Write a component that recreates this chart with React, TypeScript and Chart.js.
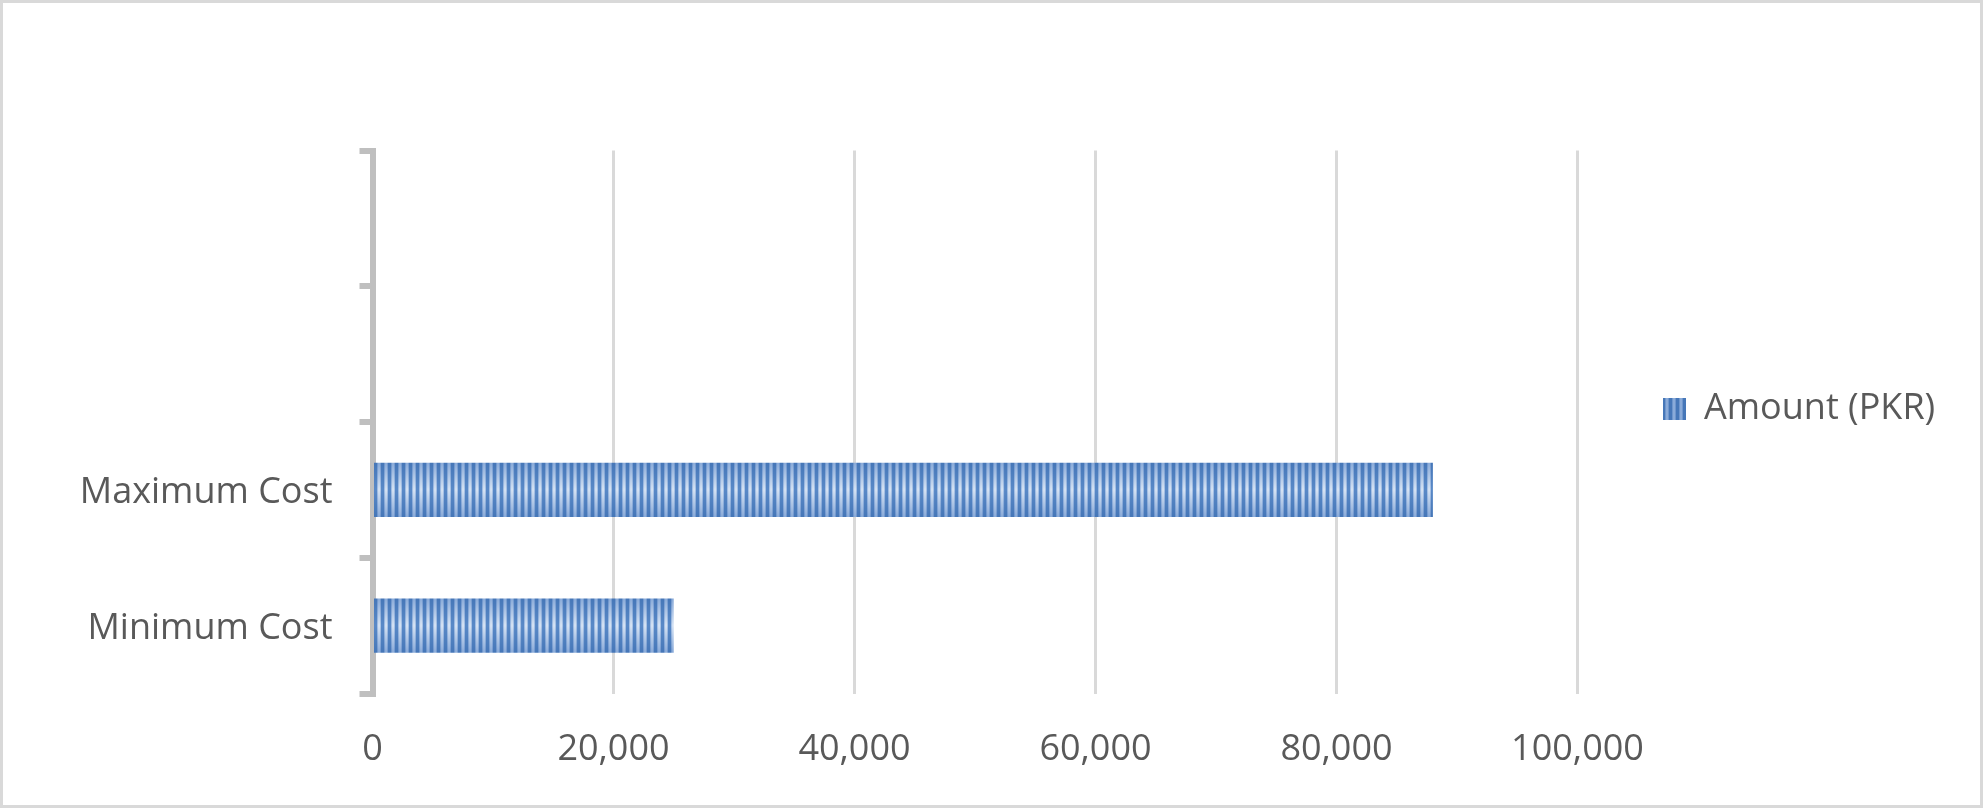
import { useEffect, useRef } from 'react';
import Chart from 'chart.js/auto';

// data, bottom-to-top as in the source sheet
const categories = ['Minimum Cost', 'Maximum Cost', '', ''];
const amounts: (number | null)[] = [25000, 88000, null, null];
const seriesName = 'Amount (PKR)';
const xTicks = [0, 20000, 40000, 60000, 80000, 100000];

const FONT = "'Open Sans', sans-serif";
const TEXT = '#595959';
const W = 1977;
const H = 802;

// vertical-stripe fill like the Excel pattern, optionally shaded top/bottom
function stripePattern(ctx: CanvasRenderingContext2D, h: number, shade: boolean) {
  const tile = document.createElement('canvas');
  tile.width = 7;
  tile.height = Math.max(1, Math.round(h));
  const g = tile.getContext('2d')!;
  const fill = (edge: string, mid: string) => {
    if (!shade) return edge;
    const lg = g.createLinearGradient(0, 0, 0, tile.height);
    lg.addColorStop(0, edge);
    lg.addColorStop(0.5, mid);
    lg.addColorStop(1, edge);
    return lg;
  };
  g.fillStyle = fill('#4677b8', '#5a8ac8');
  g.fillRect(0, 0, 3, tile.height);
  g.fillStyle = fill('#6f96cd', '#a9c3e6');
  g.fillRect(3, 0, 1, tile.height);
  g.fillRect(6, 0, 1, tile.height);
  g.fillStyle = fill('#8aabd9', '#d7e4f4');
  g.fillRect(4, 0, 2, tile.height);
  return ctx.createPattern(tile, 'repeat')!;
}

const barFill = {
  id: 'barFill',
  beforeDatasetsDraw(chart: any) {
    const meta = chart.getDatasetMeta(0);
    meta.data.forEach((bar: any) => {
      const { x, y, base, height } = bar.getProps(['x', 'y', 'base', 'height'], true);
      if (!isFinite(x) || !isFinite(y) || !height) return;
      const top = y - height / 2;
      const pat = stripePattern(chart.ctx, height, true);
      pat.setTransform(new DOMMatrix().translateSelf(Math.min(x, base), top));
      bar.options = { ...bar.options, backgroundColor: pat };
    });
  },
};

export default function App() {
  const canvasRef = useRef<HTMLCanvasElement>(null);
  const chartRef = useRef<Chart | null>(null);

  useEffect(() => {
    const canvas = canvasRef.current;
    if (!canvas) return;
    const ctx = canvas.getContext('2d');
    if (!ctx) return;

    // legend sits at a fixed spot to the right of the plot
    ctx.font = `36px ${FONT}`;
    const legendTextW = ctx.measureText(seriesName).width;
    const legendPad = 85.5;
    const plotRight = 1574.5;
    const legendW = legendPad + 23 + 18 + legendTextW + 10;
    const padRight = W - plotRight - legendW;

    if (chartRef.current) chartRef.current.destroy();

    chartRef.current = new Chart(ctx, {
      type: 'bar',
      data: {
        labels: categories,
        datasets: [
          {
            label: seriesName,
            data: amounts,
            backgroundColor: stripePattern(ctx, 1, false),
            borderWidth: 0,
            categoryPercentage: 1,
            barPercentage: 0.4,
          },
        ],
      },
      options: {
        indexAxis: 'y',
        animation: false,
        responsive: true,
        maintainAspectRatio: false,
        layout: { padding: { left: 0, top: 10, bottom: 0, right: padRight } },
        font: { family: FONT },
        color: TEXT,
        scales: {
          x: {
            type: 'linear',
            min: 0,
            max: 100000,
            afterBuildTicks: (s: any) => {
              s.ticks = xTicks.map((v) => ({ value: v }));
            },
            afterFit: (s: any) => {
              s.height = 111.5;
            },
            grid: { color: '#d9d9d9', lineWidth: 3, drawTicks: false },
            border: { display: false },
            ticks: {
              padding: 35,
              color: TEXT,
              font: { family: FONT, size: 36 },
              maxRotation: 0,
              callback: (v: any) => Number(v).toLocaleString('en-US'),
            },
          },
          y: {
            type: 'category',
            reverse: true,
            offset: true,
            z: 1,
            afterFit: (s: any) => {
              s.width = 369.5;
            },
            grid: {
              offset: true,
              drawOnChartArea: false,
              drawTicks: true,
              tickLength: 13,
              color: '#bfbfbf',
              lineWidth: 6,
            },
            border: { display: true, color: '#bfbfbf', width: 6 },
            ticks: {
              padding: 27,
              labelOffset: 3,
              color: TEXT,
              font: { family: FONT, size: 36 },
            },
          },
        },
        plugins: {
          title: {
            display: true,
            text: '',
            padding: { top: 127.5, bottom: 0 },
            font: { size: 10, lineHeight: 1 },
          },
          legend: {
            position: 'right',
            align: 'center',
            labels: {
              boxWidth: 23,
              boxHeight: 22,
              padding: legendPad,
              color: TEXT,
              font: { family: FONT, size: 36 },
            },
          },
          tooltip: { enabled: false },
        },
      },
      plugins: [barFill],
    } as any);

    return () => {
      if (chartRef.current) {
        chartRef.current.destroy();
        chartRef.current = null;
      }
    };
  }, []);

  return (
    <div
      style={{
        position: 'fixed',
        left: 0,
        top: 0,
        width: W,
        height: H,
        border: '3px solid #d9d9d9',
        background: '#fff',
      }}
    >
      <div style={{ position: 'relative', width: '100%', height: '100%' }}>
        <canvas ref={canvasRef} />
      </div>
    </div>
  );
}
